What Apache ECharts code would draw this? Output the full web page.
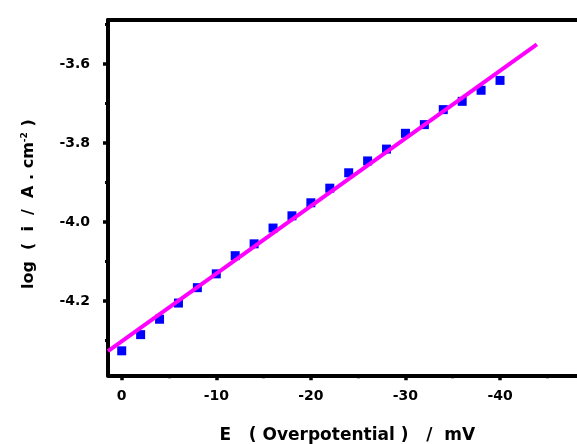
<!DOCTYPE html>
<html>
<head>
<meta charset="utf-8">
<script src="https://cdn.jsdelivr.net/npm/echarts@6/dist/echarts.min.js"></script>
<style>
html,body{margin:0;padding:0;background:#fff;}
#chart{width:577px;height:444px;}
</style>
</head>
<body>
<div id="chart"></div>
<script>
// Data
const potential = [0, -2, -4, -6, -8, -10, -12, -14, -16, -18, -20, -22, -24, -26, -28, -30, -32, -34, -36, -38, -40];
const logCurrent = [-4.326, -4.285, -4.246, -4.205, -4.166, -4.131, -4.085, -4.055, -4.015, -3.984, -3.951, -3.914, -3.875, -3.845, -3.815, -3.775, -3.753, -3.715, -3.694, -3.666, -3.641];
const fitPotential = [1.45, -43.9];
const fitLogCurrent = [-4.327, -3.550];
const xMajorTicks = [0, -10, -20, -30, -40, -50];
const xMinorTicks = [-5, -15, -25, -35, -45];
const yMajorTicks = [-4.2, -4.0, -3.8, -3.6];
const yMinorTicks = [-4.3, -4.1, -3.9, -3.7, -3.5];

const FONT = 'DejaVu Sans';
const xRange = {min: -50, max: 1.45};
const yRange = {min: -4.388, max: -3.488};

const chart = echarts.init(document.getElementById('chart'), null, {renderer: 'canvas'});
const axisLineStyle = {color: '#000', width: 4};

const option = {
  animation: false,
  backgroundColor: '#fff',
  grid: {left: 108, right: -17.6, top: 20, bottom: 68.7, containLabel: false, outerBoundsMode: 'none'},
  xAxis: [
    {
      type: 'value', inverse: true, min: xRange.min, max: xRange.max, position: 'bottom',
      axisLine: {show: true, onZero: false, lineStyle: axisLineStyle},
      axisTick: {show: true, customValues: xMajorTicks, length: 5, inside: false, lineStyle: {color: '#000', width: 3.5}},
      axisLabel: {show: true, customValues: xMajorTicks, margin: 14, color: '#000', fontFamily: FONT, fontWeight: 'bold', fontSize: 14,
        formatter: v => String(v)},
      splitLine: {show: false},
      name: 'E   ( Overpotential )   /  mV', nameLocation: 'middle', nameGap: 52,
      nameTextStyle: {color: '#000', fontFamily: FONT, fontWeight: 'bold', fontSize: 17, padding: [0, 8, 0, 0]}
    },
    {
      type: 'value', inverse: true, min: xRange.min, max: xRange.max, position: 'bottom',
      axisLine: {show: false, onZero: false},
      axisTick: {show: true, customValues: xMinorTicks, length: 3, lineStyle: {color: '#000', width: 3}},
      axisLabel: {show: false}, splitLine: {show: false}
    },
    {
      type: 'value', inverse: true, min: xRange.min, max: xRange.max, position: 'top',
      axisLine: {show: true, onZero: false, lineStyle: axisLineStyle},
      axisTick: {show: false}, axisLabel: {show: false}, splitLine: {show: false}
    }
  ],
  yAxis: [
    {
      type: 'value', min: yRange.min, max: yRange.max, position: 'left',
      axisLine: {show: true, onZero: false, lineStyle: axisLineStyle},
      axisTick: {show: true, customValues: yMajorTicks, length: 5, lineStyle: {color: '#000', width: 3.5}},
      axisLabel: {show: true, customValues: yMajorTicks, margin: 18, color: '#000', fontFamily: FONT, fontWeight: 'bold', fontSize: 14,
        formatter: v => Number(v).toFixed(1)},
      splitLine: {show: false},
      name: '{a|log  (  i  /  A . cm}{s|-2}{a| )}', nameLocation: 'middle', nameGap: 71, nameRotate: 90,
      nameTextStyle: {
        padding: [0, 13, 0, 0],
        rich: {
          a: {color: '#000', fontFamily: FONT, fontWeight: 'bold', fontSize: 16},
          s: {color: '#000', fontFamily: FONT, fontWeight: 'bold', fontSize: 9, verticalAlign: 'top', padding: [0, 0, 8, 0]}
        }
      }
    },
    {
      type: 'value', min: yRange.min, max: yRange.max, position: 'left',
      axisLine: {show: false, onZero: false},
      axisTick: {show: true, customValues: yMinorTicks, length: 3, lineStyle: {color: '#000', width: 3}},
      axisLabel: {show: false}, splitLine: {show: false}
    }
  ],
  series: [
    {
      type: 'scatter', xAxisIndex: 0, yAxisIndex: 0,
      symbol: 'rect', symbolSize: 9,
      itemStyle: {color: '#0000ff', opacity: 1},
      data: potential.map((x, i) => [x, logCurrent[i]]),
      z: 2
    },
    {
      type: 'line', xAxisIndex: 0, yAxisIndex: 0,
      showSymbol: false, symbol: 'none',
      lineStyle: {color: '#ff00ff', width: 4},
      data: fitPotential.map((x, i) => [x, fitLogCurrent[i]]),
      z: 3
    }
  ]
};
chart.setOption(option);
</script>
</body>
</html>
